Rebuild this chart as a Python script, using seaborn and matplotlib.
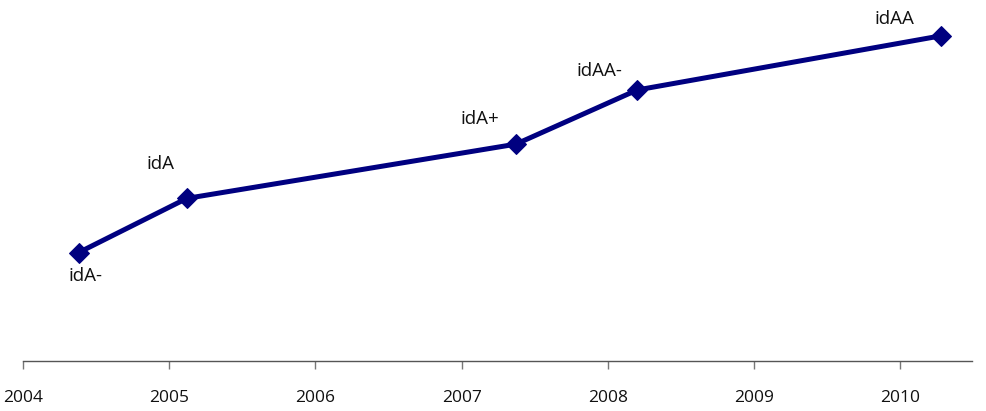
import matplotlib
matplotlib.use("Agg")
import matplotlib.pyplot as plt
import seaborn as sns
import pandas as pd

# Rating history: decimal year of each rating action and its notch level
years = [2004.38, 2005.12, 2007.37, 2008.20, 2010.28]
levels = [2, 3, 4, 5, 6]
ratings = ["idA-", "idA", "idA+", "idAA-", "idAA"]
tick_years = [2004, 2005, 2006, 2007, 2008, 2009, 2010]

# label offsets in points (dx, dy) relative to each marker
label_offsets = [(5, -17), (-19, 25), (-26, 18), (-27, 14), (-34, 12)]

sns.set_style("white")
plt.rcParams["font.family"] = ["Open Sans", "DejaVu Sans"]

df = pd.DataFrame({"year": years, "level": levels, "rating": ratings})

fig = plt.figure(figsize=(9.87, 4.11), dpi=100)
ax = fig.add_axes([23 / 987, 1 - 361 / 411, (972 - 23) / 987, 361 / 411])

sns.lineplot(data=df, x="year", y="level", ax=ax, color="#000080",
             linewidth=3.6, marker="D", markersize=10,
             markeredgecolor="#000080", markerfacecolor="#000080")

for (x, y, r), (dx, dy) in zip(zip(years, levels, ratings), label_offsets):
    ax.annotate(r, (x, y), xytext=(dx, dy), textcoords="offset points",
                ha="center", va="center", fontsize=13.5, color="#111111")

ax.set_xlim(2004, 2010.49)
ax.set_ylim(0, 6.66)
ax.set_xticks(tick_years)
ax.set_xticklabels([str(t) for t in tick_years], fontsize=12.5)
ax.set_yticks([])
ax.set_xlabel("")
ax.set_ylabel("")
for s in ["top", "right", "left"]:
    ax.spines[s].set_visible(False)
ax.spines["bottom"].set_color("#555555")
ax.spines["bottom"].set_linewidth(1.0)
ax.tick_params(axis="x", bottom=True, direction="out", length=6, width=1,
               color="#777777", pad=15, labelcolor="#111111")

fig.savefig("out.png", dpi=100)
